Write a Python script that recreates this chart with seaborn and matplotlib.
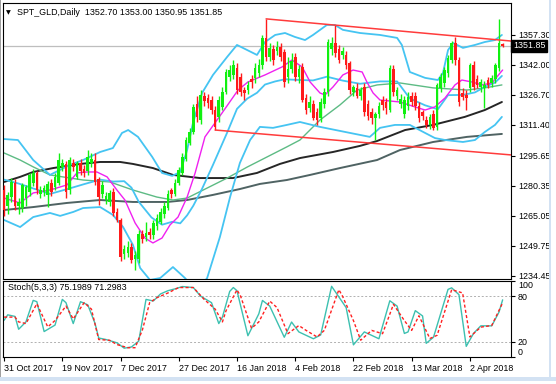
import numpy as np
import pandas as pd
import matplotlib
matplotlib.use("Agg")
import matplotlib.pyplot as plt
from matplotlib.patches import Rectangle
import seaborn as sns

# --- daily candles (31 Oct 2017 .. 12 Apr 2018) ---
opens = [1278, 1270, 1274.6, 1282, 1270, 1269, 1274, 1277, 1282, 1286.9,
         1276, 1277, 1275.6, 1281.8, 1279.7, 1282, 1290, 1291.5, 1278, 1292,
         1285, 1292, 1289, 1288, 1292, 1293.5, 1284, 1276, 1273, 1272,
         1277, 1267, 1263, 1245.5, 1246, 1249, 1243, 1243, 1256, 1254,
         1257, 1255, 1260, 1262, 1266, 1269, 1278, 1276, 1282, 1287,
         1294, 1302, 1308, 1322, 1314, 1326, 1325, 1324, 1319, 1315.5,
         1320.6, 1328.2, 1336, 1337, 1340.5, 1336, 1329.2, 1329.2, 1335, 1335.4,
         1337.9, 1342, 1355.8, 1346, 1350, 1349, 1351.2, 1348.6, 1336, 1340,
         1346, 1336, 1341, 1325, 1320, 1322, 1318, 1315, 1322, 1328,
         1350, 1353, 1350, 1347, 1347, 1343, 1328, 1330, 1326, 1330.8,
         1322, 1318, 1315, 1317, 1324, 1323, 1319, 1340, 1326, 1322,
         1317, 1321, 1326, 1326, 1321, 1318, 1314, 1311.4, 1317, 1310.4,
         1330, 1333, 1338, 1344.5, 1353, 1344.5, 1327.7, 1326.7, 1330, 1342,
         1335, 1330.8, 1330, 1334.3, 1333, 1335, 1340.5, 1352.7]
highs = [1281, 1277, 1284.3, 1284, 1274, 1282, 1281, 1287, 1289, 1288,
         1280, 1281, 1283, 1284, 1287, 1297, 1294, 1293, 1295, 1294,
         1293, 1294, 1291, 1298.6, 1297, 1297, 1285, 1283, 1277, 1278,
         1279, 1269, 1264, 1250, 1252, 1251, 1247, 1258, 1258, 1262,
         1259, 1263, 1266, 1269, 1272, 1278, 1279, 1284, 1290, 1297,
         1305, 1310, 1322, 1326, 1329, 1328, 1327, 1326, 1321, 1326,
         1331, 1340, 1342, 1344.5, 1343, 1338, 1331, 1334, 1337, 1343,
         1345, 1357.3, 1365.5, 1353, 1352, 1354, 1353, 1350, 1346, 1348,
         1348, 1342, 1343, 1327, 1326, 1324, 1320, 1325, 1330, 1355,
         1356, 1362.4, 1352, 1351, 1349, 1344, 1332, 1333, 1331, 1333,
         1324, 1320, 1318, 1323, 1326, 1325, 1342, 1342, 1331, 1327,
         1326, 1328, 1328, 1328, 1323, 1319, 1316, 1317, 1319, 1333,
         1338, 1341, 1347, 1354, 1356.3, 1346, 1330, 1329, 1343, 1344,
         1337, 1335, 1334, 1336, 1337, 1343, 1365.5, 1353]
lows = [1265, 1266, 1272, 1268, 1266, 1267, 1270, 1275, 1280, 1276,
        1274, 1275, 1269.5, 1275, 1278, 1281, 1288, 1274, 1276, 1288,
        1284, 1286, 1285, 1286, 1290, 1281, 1270.6, 1274, 1271, 1270,
        1265, 1262, 1242, 1243, 1244, 1241, 1237.4, 1241, 1251, 1252,
        1253, 1253, 1258, 1261, 1264, 1268, 1274, 1275, 1281, 1286,
        1293, 1301, 1307, 1313, 1312, 1321, 1320, 1317, 1308.8, 1313,
        1319, 1327, 1334, 1335, 1327, 1326, 1324, 1327, 1330, 1333,
        1336, 1340, 1344, 1344, 1342, 1347, 1344, 1331, 1333, 1338,
        1334, 1333, 1323, 1317, 1318, 1314, 1311.4, 1313, 1320, 1326,
        1347, 1346, 1343, 1345, 1340, 1327, 1326, 1325, 1324, 1316,
        1314, 1312, 1303.7, 1315, 1319, 1317, 1318, 1326, 1324, 1320,
        1315, 1319, 1321, 1319, 1313, 1314, 1310, 1309.5, 1308.8, 1309,
        1328, 1331, 1336, 1343, 1342, 1321, 1324, 1319, 1328, 1329,
        1330, 1328, 1320, 1330, 1331, 1333, 1339, 1350.95]
closes = [1268, 1275.5, 1282.3, 1270, 1272, 1280.8, 1279.7, 1285.9, 1286.9, 1278,
          1278, 1279, 1281.3, 1277.2, 1284.8, 1293.5, 1292, 1277.2, 1293.5, 1290,
          1292, 1288, 1287, 1295, 1294, 1282.3, 1274.6, 1281, 1275, 1276.6,
          1266.5, 1263, 1244, 1248, 1249, 1242.5, 1245, 1256, 1253, 1256.5,
          1255, 1261.5, 1264, 1267, 1270, 1276, 1276, 1282, 1288.4, 1295,
          1303.5, 1307.8, 1320.5, 1315.5, 1326.7, 1323.5, 1322.5, 1319, 1310.4, 1324,
          1328.2, 1338.4, 1339.4, 1342, 1329.2, 1328.2, 1327.7, 1331.8, 1333.3, 1340.5,
          1342, 1355.8, 1346, 1350.6, 1344.5, 1351, 1346, 1333.3, 1340, 1344,
          1336, 1340, 1324, 1319, 1323, 1315, 1314, 1323, 1328, 1353.7,
          1353, 1348, 1344.5, 1349, 1342, 1329, 1330.5, 1326, 1329, 1318,
          1316, 1315, 1317, 1321, 1321.5, 1320, 1340.5, 1328, 1329, 1324.5,
          1324, 1325.5, 1323, 1321, 1315, 1316, 1311.4, 1315.5, 1309.8, 1331.8,
          1336, 1339.4, 1345.5, 1353, 1344.5, 1323, 1325.6, 1325, 1342, 1330.8,
          1331.8, 1333.3, 1332, 1331.8, 1335.4, 1342, 1353, 1351.85]

tick_bars = [0, 16, 32, 48, 64, 80, 96, 112, 128]
tick_labels = ["31 Oct 2017", "19 Nov 2017", "7 Dec 2017", "27 Dec 2017",
               "16 Jan 2018", "4 Feb 2018", "22 Feb 2018", "13 Mar 2018",
               "2 Apr 2018"]
price_ticks = [1357.30, 1342.00, 1326.70, 1311.40, 1295.65,
               1280.35, 1265.05, 1249.75, 1234.45]
last_price = 1351.85

# --- indicator lines (bar index, price) ---
fast_ma_bars = [0, 4.4, 8, 12.6, 17.3, 20, 22.8, 25.5, 28.3, 31, 33.2, 36, 38.7,
                40.9, 43.4, 45.6, 47.8, 50.3, 52.5, 55.2, 59.9, 64.3, 67, 71.7,
                76.4, 79.1, 81.9, 84.1, 86.8, 88.2, 90.4, 93.1, 95.9, 98.4, 99.7,
                101.4, 103.3, 108.8, 112.9, 115.7, 118.4, 121.2, 123.9, 125.8,
                128.6, 131.3, 134.1, 136.3, 137]
fast_ma = [1274.1, 1271.6, 1276.7, 1278.2, 1280.8, 1286.9, 1287.4, 1287.4, 1284.9,
           1278.2, 1273.1, 1261.4, 1253.7, 1251.2, 1253.7, 1260.4, 1264.4, 1274.6,
           1286.9, 1305.3, 1317.5, 1329.2, 1333.3, 1336.9, 1341, 1344.5, 1341,
           1333.3, 1327.7, 1326.7, 1330.8, 1336.9, 1339.4, 1338.4, 1333.3, 1327.7,
           1324.1, 1323.1, 1320.6, 1319, 1320.6, 1325.2, 1331.8, 1334.3, 1333.3,
           1331.8, 1332.8, 1337.9, 1339.4]

bb_up_bars = [0, 3.8, 8, 12.6, 18.1, 21.7, 26.4, 29.9, 32.4, 34.1, 36.8, 40.7,
              43.4, 46.2, 48.4, 50.3, 51.9, 54.4, 57.4, 61.3, 64, 66.8, 69.5,
              71.7, 74.5, 77.2, 79.9, 82.7, 84.9, 88.7, 90.9, 93.1, 97.8, 103.3,
              108, 109.3, 111.5, 115.7, 119.2, 120.6, 122, 123.4, 126.1, 129.4,
              132.1, 134.9, 136.8]
bb_up = [1304.2, 1303.7, 1293.5, 1285.9, 1291, 1293.5, 1297.6, 1299.6, 1307.3,
         1308.8, 1305.3, 1295.1, 1286.9, 1285.4, 1287.4, 1298.6, 1312.4, 1327.7,
         1336.9, 1346.1, 1352.2, 1349.6, 1347.1, 1353.7, 1357.3, 1358.3, 1356.3,
         1354.7, 1357.3, 1362.4, 1362.4, 1359.9, 1358.3, 1357.3, 1355.8, 1352.2,
         1338.4, 1335.4, 1334.3, 1337.9, 1349.6, 1353.2, 1350.7, 1352.2, 1353.7,
         1354.7, 1357.3]
bb_mid_bars = [0, 4, 8, 12.6, 18, 22, 26.4, 30, 33, 35, 37, 40.5, 43.4, 46.2,
               48.4, 50.3, 52, 54.4, 57.4, 61.3, 64, 66.8, 69.5, 71.7, 74.5, 77.2,
               80, 84.9, 88.7, 93.1, 97.8, 103.3, 108, 111.5, 115.7, 119.2, 122,
               126.1, 129.4, 132.1, 134.9, 136.8]
bb_mid = [1283.5, 1281.5, 1279, 1276.2, 1279, 1281.2, 1283.5, 1282.5, 1282.7,
          1279.4, 1272.2, 1264.2, 1260.5, 1262, 1261.2, 1265.3, 1270.2, 1278.8,
          1291, 1307.5, 1319.6, 1324.8, 1327.8, 1332, 1333.6, 1334.7, 1334.4,
          1334.1, 1336, 1334, 1332.4, 1333.6, 1333.6, 1324.9, 1321.4, 1319.4,
          1326.6, 1326.7, 1328, 1330.8, 1333, 1336.4]
bb_low_bars = [0, 4.4, 8, 12.6, 15.4, 19, 21.7, 26.4, 29.9, 32.7, 35.4, 37.4,
               40.1, 42.9, 46.4, 49.7, 53, 55.8, 59.3, 62.1, 64.8, 67.6, 70.3,
               73.9, 77.7, 81.3, 86.8, 95.1, 100.5, 103.3, 107.4, 111.5, 115.7,
               118.4, 121.2, 126.1, 129.4, 132.1, 134.9, 136.8]
bb_low = [1262.9, 1259.3, 1264.4, 1266.5, 1265, 1267, 1269, 1269.5, 1265.5, 1259.3,
          1250.2, 1238.4, 1232.3, 1233.3, 1238.9, 1233.3, 1226.2, 1233.3, 1254.2,
          1274.6, 1292, 1303.7, 1310.4, 1309.9, 1311.4, 1312.9, 1310.4, 1307.3,
          1305.3, 1309.9, 1311.4, 1311.4, 1307.3, 1304.7, 1303.7, 1302.7, 1303.7,
          1307.8, 1311.4, 1315.5]

mid_ma_bars = [0, 4.4, 8, 12.6, 21.7, 29.1, 35.4, 42, 46.4, 50.3, 55.8, 61.3,
               66.8, 72.3, 77.7, 81.3, 86.8, 92.3, 97, 102.5, 108.8, 117.9, 127.2,
               132.1, 136.8]
mid_ma = [1297.1, 1293.5, 1290, 1285.9, 1283.3, 1282.3, 1278.2, 1274.6, 1273.1,
          1274.1, 1279.2, 1284.3, 1289.9, 1295.1, 1300.2, 1303.7, 1313.9, 1321.6,
          1329.2, 1331.8, 1332.8, 1330.3, 1329.2, 1330.3, 1331.8]
slow_ma_bars = [0, 4.4, 8, 13.5, 20.9, 26.4, 31.9, 35.4, 40.9, 46.4, 53.8, 62.9,
                69.5, 75.8, 81.3, 90.4, 97.8, 102.5, 110.2, 117.9, 126.6, 132.1,
                136.8]
slow_ma = [1282.3, 1284.9, 1287.4, 1289.4, 1291.5, 1292.5, 1292.5, 1291.5, 1289.4,
           1285.9, 1284.3, 1284.3, 1286.9, 1291.5, 1294.5, 1297.6, 1300.7, 1303.2,
           1308.8, 1311.4, 1315.5, 1319, 1323.1]
long_ma_bars = [0, 8, 17.3, 26.4, 35.4, 44.8, 50.3, 57.4, 64.8, 70.3, 77.7, 84.1,
                92.3, 102.5, 108.8, 117.9, 127.2, 136.8]
long_ma = [1268, 1269.5, 1271.6, 1273.1, 1272.1, 1272.1, 1273.1, 1275.7, 1278.7,
           1281.3, 1283.3, 1285.9, 1289.4, 1293.5, 1298.6, 1302.7, 1305.3, 1306.8]

# drawn trend lines
upper_trend_bars = [72, 139.3]
upper_trend = [1365.5, 1354.2]
lower_trend_bars = [58, 139.3]
lower_trend = [1308.8, 1296.1]

# --- Stochastic (5,3,3) ---
k_bars = [0, 1, 3, 4, 6, 8, 9, 11, 14, 16, 17, 19, 21, 23, 25, 26, 28, 31, 33, 35,
          37, 39, 41, 43, 45, 47, 49, 52, 54, 57, 59, 60, 62, 63, 64, 67, 70, 71,
          73, 77, 79, 81, 85, 87, 90, 91, 94, 96, 99, 103, 106, 108, 110, 111,
          113, 115, 116, 118, 122, 123, 125, 127, 129, 131, 134, 136, 137]
k_vals = [48.3, 55.5, 53.4, 36.5, 46.2, 74.5, 72.8, 33.5, 42, 75.8, 71.5, 44, 72.8,
          68.6, 44, 25, 23, 18.7, 11.6, 13.2, 20.9, 75.8, 73.7, 83, 87.2, 89.7,
          92.7, 91.4, 80, 71.5, 44, 52.5, 86.3, 91.4, 87.2, 28, 56.8, 74.4, 67,
          26, 46, 33, 24, 29, 93, 86, 65, 16, 33, 24, 74, 67, 31, 33, 61, 54, 18,
          26, 89, 91, 82, 14, 31, 41, 41, 59, 75.2]
d_bars = [0, 3, 4, 6, 9, 12, 14, 17, 19, 22, 24, 26, 29, 31, 34, 36, 38, 40, 42,
          45, 48, 52, 55, 58, 60, 61, 64, 65, 68, 70, 73, 75, 78, 81, 83, 86, 88,
          92, 93, 96, 98, 101, 104, 107, 110, 112, 114, 117, 119, 123, 126, 128,
          131, 134, 137]
d_vals = [52.5, 52.5, 46.2, 44, 70, 39.6, 48, 67, 50.1, 71.5, 63, 23, 22, 16.4,
          12.2, 12.2, 35.5, 71.5, 78, 84.2, 91.4, 91.4, 75.7, 63, 46.2, 61, 88.4,
          80, 37.8, 46.2, 73.6, 65, 30.7, 41.4, 35, 26.4, 35, 88.6, 80, 47.9, 22.1,
          35, 30.7, 69.3, 47.9, 35, 54.3, 24.3, 28.6, 88.6, 84.3, 26.4, 39.3, 41.4,
          71.3]

candles = pd.DataFrame({"open": opens, "high": highs, "low": lows, "close": closes})
candles["bar"] = np.arange(len(candles))
candles["up"] = candles["close"] >= candles["open"]

sns.set_theme(style="white")
plt.rcParams["font.family"] = ["Liberation Sans", "DejaVu Sans"]

W, H = 556, 384


def frame(x0, y0, x1, y1):
    return [x0 / W, 1 - y1 / H, (x1 - x0) / W, (y1 - y0) / H]


fig = plt.figure(figsize=(W / 100, H / 100), dpi=100, facecolor="white")
ax = fig.add_axes(frame(3, 3, 511, 279))
ax_st = fig.add_axes(frame(3, 281, 511, 357))

BULL, BEAR = "#10F010", "#FF1A1A"
col = np.where(candles["up"], BULL, BEAR)

ax.axhline(last_price, color="#BEBEBE", lw=0.9, zorder=1)

# moving averages and bands
lines = [
    (long_ma_bars, long_ma, "#4F6363", 1.4),
    (slow_ma_bars, slow_ma, "#262626", 1.4),
    (mid_ma_bars, mid_ma, "#5DBB84", 1.0),
    (bb_up_bars, bb_up, "#45C4F2", 1.3),
    (bb_mid_bars, bb_mid, "#45C4F2", 1.3),
    (bb_low_bars, bb_low, "#45C4F2", 1.3),
    (fast_ma_bars, fast_ma, "#F020F0", 1.0),
]
for xs, ys, c, lw in lines:
    sns.lineplot(x=xs, y=ys, ax=ax, color=c, linewidth=lw, sort=False, zorder=2)

# candles
ax.vlines(candles["bar"], candles["low"], candles["high"], colors=col, lw=1.0, zorder=3)
body_lo = candles[["open", "close"]].min(axis=1)
body_h = (candles["close"] - candles["open"]).abs().clip(lower=0.6)
ax.bar(candles["bar"], body_h, bottom=body_lo, width=0.72, color=col,
       linewidth=0, zorder=4)

# trend lines
ax.plot(upper_trend_bars, upper_trend, color="#FF3B3B", lw=1.1, zorder=5)
ax.plot(lower_trend_bars, lower_trend, color="#FF3B3B", lw=1.1, zorder=5)

ax.set_xlim(-0.3, 139.3)
ax.set_ylim(1232.8, 1373.6)
ax.set_xlabel("")
ax.set_ylabel("")
ax.yaxis.tick_right()
ax.set_yticks(price_ticks)
ax.set_yticklabels([f"{v:.2f}" for v in price_ticks])
ax.tick_params(axis="y", direction="out", length=3, width=0.8, pad=2,
               labelsize=6.4, colors="black", right=True, left=False)
ax.tick_params(axis="x", bottom=False, labelbottom=False)
for s in ax.spines.values():
    s.set_color("black")
    s.set_linewidth(0.8)

ax.text(1.004, last_price, "1351.85", transform=ax.get_yaxis_transform(),
        ha="left", va="center", fontsize=6.4, color="white", zorder=10,
        bbox=dict(boxstyle="square,pad=0.18", fc="black", ec="black"),
        clip_on=False)

# stochastic panel
ax_st.axhline(80, color="#B0B0B0", lw=0.7, ls=(0, (2, 2)))
ax_st.axhline(20, color="#B0B0B0", lw=0.7, ls=(0, (2, 2)))
sns.lineplot(x=k_bars, y=k_vals, ax=ax_st, color="#3CC0B0", linewidth=1.0, sort=False)
sns.lineplot(x=d_bars, y=d_vals, ax=ax_st, color="#FF2020", linewidth=1.0,
             sort=False, linestyle=(0, (2.2, 1.6)))
ax_st.set_xlim(-0.3, 139.3)
ax_st.set_ylim(0, 100)
ax_st.set_xlabel("")
ax_st.set_ylabel("")
ax_st.yaxis.tick_right()
ax_st.set_yticks([0, 20, 80, 100])
labs = ax_st.set_yticklabels(["0", "20", "80", "100"])
labs[0].set_va("bottom")
labs[3].set_va("top")
ax_st.tick_params(axis="y", direction="out", length=3, width=0.8, pad=2,
                  labelsize=6.4, colors="black")
ax_st.set_xticks(tick_bars)
ax_st.set_xticklabels(tick_labels, ha="left")
ax_st.tick_params(axis="x", direction="out", length=3, width=0.8, pad=2,
                  labelsize=6.4, colors="black", bottom=True)
for s in ax_st.spines.values():
    s.set_color("black")
    s.set_linewidth(0.8)

# header texts
fig.text(6 / W, 1 - 12.5 / H, "\u25BC", fontsize=4.5, family="DejaVu Sans",
         va="center", ha="left", color="black")
fig.text(17 / W, 1 - 12.5 / H, "SPT_GLD,Daily  1352.70 1353.00 1350.95 1351.85",
         fontsize=6.4, va="center", ha="left", color="black")
fig.text(8 / W, 1 - 288 / H, "Stoch(5,3,3) 75.1989 71.2983", fontsize=6.4,
         va="center", ha="left", color="black")

# window chrome
fig.add_artist(Rectangle((0, 1 - 381 / H), 1, 4 / H, transform=fig.transFigure,
                         color="#D3E2F3", lw=0))
fig.add_artist(Rectangle((549 / W, 1 - 381 / H), 2 / W, 381 / H,
                         transform=fig.transFigure, color="#D3E2F3", lw=0))
fig.add_artist(Rectangle((0, 1 - 377 / H), 1.2 / W, 377 / H,
                         transform=fig.transFigure, color="#A0A0A0", lw=0))

fig.savefig("out.png", dpi=100, facecolor="white")
